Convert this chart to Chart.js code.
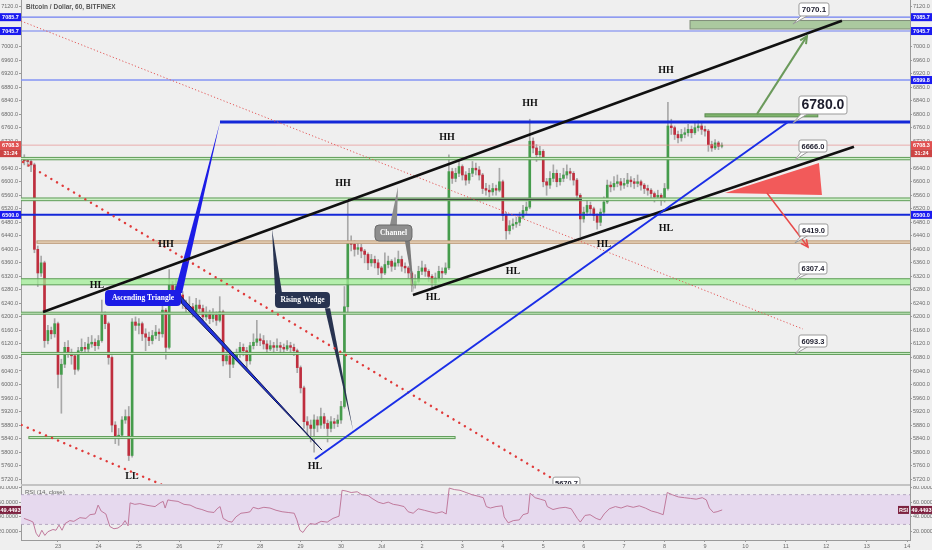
<!DOCTYPE html>
<html>
<head>
<meta charset="utf-8">
<script src="https://cdn.jsdelivr.net/npm/chart.js@4.4.0/dist/chart.umd.min.js"></script>
<style>
html, body { margin: 0; padding: 0; background: #efefef; }
#wrap { position: relative; width: 932px; height: 550px; overflow: hidden; background: #efefef; }
canvas { position: absolute; left: 0; }
#main { top: 0; }
#rsi { top: 486px; }
</style>
</head>
<body>
<div id="wrap">
  <canvas id="main" width="932" height="486"></canvas>
  <canvas id="rsi" width="932" height="64"></canvas>
</div>
<script>
// BTCUSD 2h candles, starting Jun 22 ~02:00
var startDay = 22.0833;
var barsPerDay = 12;
var firstOpen = 6670;

var closes = [
  6668, 6662, 6660, 6650, 6400, 6330, 6360, 6130, 6160, 6150,
  6180, 6030, 6060, 6110, 6095, 6085, 6045, 6100, 6110, 6105,
  6120, 6125, 6115, 6130, 6205, 6180, 6080, 5880, 5845, 5850,
  5895, 5905, 5790, 6185, 6175, 6180, 6150, 6140, 6130, 6145,
  6155, 6150, 6220, 6110, 6295, 6280, 6290, 6265, 6240, 6225,
  6230, 6215, 6235, 6225, 6200, 6210, 6195, 6205, 6190, 6215,
  6070, 6085, 6060, 6080, 6090, 6110, 6100, 6070, 6115, 6125,
  6135, 6130, 6120, 6105, 6115, 6110, 6115, 6110, 6105, 6115,
  6110, 6100, 6050, 5990, 5890, 5880, 5870, 5895, 5880, 5905,
  5885, 5870, 5890, 5885, 5895, 5935, 6230, 6420, 6415, 6400,
  6405, 6395, 6385, 6360, 6370, 6360, 6345, 6330, 6355, 6365,
  6350, 6360, 6370, 6350, 6345, 6330, 6295, 6305, 6335, 6345,
  6335, 6320, 6300, 6315, 6335, 6330, 6345, 6630, 6610, 6625,
  6645, 6620, 6605, 6625, 6640, 6635, 6620, 6580, 6575, 6570,
  6580, 6575, 6600, 6500, 6455, 6470, 6475, 6480, 6495, 6515,
  6525, 6720, 6700, 6680, 6690, 6600, 6590, 6610, 6625, 6600,
  6610, 6620, 6630, 6625, 6605, 6560, 6490, 6510, 6530, 6520,
  6500, 6480, 6510, 6540, 6590, 6585, 6595, 6600, 6590, 6595,
  6605, 6600, 6595, 6600, 6590, 6580, 6575, 6565, 6555, 6560,
  6545, 6580, 6765, 6760, 6740, 6730, 6740, 6745, 6755, 6745,
  6760, 6765, 6755, 6750, 6710, 6700, 6715, 6705, 6708.3
];

var highs = [
  6685, 6680, 6672, 6665, 6655, 6410, 6380, 6365, 6175, 6170,
  6195, 6185, 6075, 6125, 6130, 6105, 6095, 6110, 6135, 6125,
  6140, 6145, 6135, 6145, 6250, 6215, 6185, 6085, 5890, 5870,
  5905, 5925, 5935, 6195, 6200, 6195, 6185, 6165, 6155, 6160,
  6175, 6165, 6240, 6225, 6340, 6305, 6310, 6300, 6275, 6250,
  6260, 6240, 6255, 6250, 6235, 6230, 6220, 6225, 6215, 6260,
  6220, 6100, 6095, 6095, 6105, 6125, 6120, 6110, 6125, 6150,
  6190, 6150, 6145, 6130, 6130, 6125, 6135, 6125, 6120, 6130,
  6125, 6120, 6105, 6055, 5995, 5905, 5895, 5910, 5905, 5930,
  5915, 5895, 5905, 5900, 5910, 5950, 6290, 6540, 6440, 6425,
  6420, 6415, 6400, 6390, 6385, 6380, 6370, 6350, 6390, 6380,
  6370, 6375, 6395, 6380, 6360, 6350, 6335, 6325, 6350, 6365,
  6355, 6340, 6325, 6330, 6350, 6345, 6360, 6680, 6640, 6640,
  6665, 6650, 6630, 6640, 6660, 6655, 6645, 6625, 6595, 6590,
  6595, 6590, 6640, 6605, 6510, 6485, 6490, 6495, 6510, 6530,
  6540, 6785, 6730, 6710, 6705, 6695, 6610, 6630, 6650, 6635,
  6625, 6640, 6650, 6640, 6630, 6610, 6565, 6525, 6550, 6540,
  6525, 6505, 6520, 6555, 6605, 6600, 6615, 6620, 6610, 6610,
  6625, 6615, 6610, 6620, 6605, 6595, 6590, 6580, 6570, 6575,
  6565, 6595, 6835, 6785, 6765, 6750, 6755, 6760, 6770, 6765,
  6775, 6780, 6775, 6765, 6755, 6720, 6725, 6720, 6715
];

var lows = [
  6655, 6650, 6645, 6630, 6390, 6290, 6320, 6110, 6120, 6135,
  6140, 5990, 5915, 6050, 6080, 6060, 6030, 6040, 6090, 6090,
  6095, 6110, 6100, 6105, 6125, 6165, 6060, 5860, 5825, 5820,
  5840, 5885, 5775, 5785, 6160, 6150, 6130, 6100, 6115, 6120,
  6135, 6130, 6140, 6075, 6105, 6260, 6265, 6240, 6225, 6210,
  6215, 6200, 6205, 6210, 6185, 6190, 6180, 6185, 6175, 6185,
  6055, 6060, 6020, 6050, 6070, 6080, 6085, 6040, 6060, 6105,
  6115, 6115, 6105, 6095, 6100, 6095, 6100, 6095, 6090, 6100,
  6095, 6085, 6035, 5975, 5870, 5850, 5830, 5800, 5860, 5870,
  5870, 5830, 5860, 5870, 5875, 5885, 5930, 6210, 6395, 6380,
  6385, 6375, 6360, 6340, 6350, 6345, 6325, 6310, 6325, 6345,
  6335, 6340, 6350, 6335, 6330, 6315, 6275, 6285, 6300, 6325,
  6320, 6305, 6285, 6290, 6305, 6315, 6325, 6340, 6595, 6600,
  6615, 6605, 6590, 6595, 6615, 6620, 6605, 6565, 6560, 6555,
  6560, 6560, 6570, 6485, 6430, 6445, 6460, 6465, 6470, 6490,
  6505, 6520, 6685, 6660, 6670, 6585, 6560, 6580, 6600, 6585,
  6590, 6600, 6610, 6605, 6590, 6545, 6437, 6480, 6500, 6505,
  6485, 6460, 6470, 6500, 6535, 6570, 6575, 6585, 6575, 6580,
  6585, 6585, 6580, 6585, 6575, 6565, 6560, 6550, 6540, 6545,
  6530, 6540, 6575, 6740, 6725, 6715, 6720, 6730, 6735, 6730,
  6740, 6750, 6740, 6735, 6690, 6690, 6695, 6695, 6700
];

var rsiPos = [
  0.9, 2.7, 3.6, 4.5, 5.3, 6.2, 7.1, 8, 9.5, 10.4,
  11.3, 12.2, 13.1, 14.5, 15.7, 17.5, 19.3, 20.5, 22, 22.9,
  23.8, 25.2, 26.4, 27.6, 28.8, 30, 30.9, 31.8, 32.4, 33.8,
  35.3, 37.1, 38.3, 39.8, 41.3, 42.2, 42.8, 43.6, 44.8, 46.6,
  48.4, 50.2, 52, 53.7, 55.5, 57.3, 58.2, 59.1, 60, 61.5,
  62.6, 63.8, 65.3, 67.1, 68, 68.9, 70.4, 72.1, 73.9, 75.7,
  77.5, 79.3, 81.1, 81.9, 82.8, 83.7, 84.6, 85.8, 87.3, 89.1,
  90.9, 92.6, 94.4, 95.3, 96.5, 98, 99.8, 101.2, 103, 104.2,
  106, 107.5, 109, 110.5, 111.9, 113.7, 114.9, 116.4, 117.9, 119.7,
  121.4, 123.2, 125, 126.2, 127.1, 128.6, 130.3, 132.1, 133.9, 135.7,
  137.2, 138.1, 139.3, 141, 142.8, 143.4, 144.6, 146.1, 147.9, 149,
  150.5, 151.1, 152.6, 154.1, 155.6, 156.2, 157.9, 159.7, 161.5, 163.3,
  165.1, 166, 167.4, 168.9, 170.7, 171.9, 173.1, 174.6, 176.4, 178.1,
  179.9, 181.7, 183.5, 185.3, 187.1, 188.8, 190.6, 191.8, 193.3, 195.1,
  196.9, 198.7, 200.4, 202.2, 203.4, 204.3, 205.5, 206.6, 208.1
];
var rsiVal = [
  38, 35, 33, 18, 13, 22, 15, 20, 23, 22,
  29, 22, 31, 35, 34, 39, 38, 43, 44, 56,
  48, 44, 27, 24, 25, 29, 35, 28, 59, 57,
  58, 56, 55, 54, 59, 61, 52, 63, 62, 61,
  57, 56, 52, 50, 47, 46, 51, 54, 38, 34,
  33, 40, 45, 46, 47, 53, 51, 53, 52, 49,
  47, 46, 45, 36, 22, 19, 25, 31, 30, 34,
  33, 38, 41, 76, 75, 73, 74, 70, 69, 65,
  60, 58, 60, 57, 56, 54, 47, 45, 51, 49,
  47, 45, 47, 44, 79, 77, 76, 73, 70, 68,
  66, 54, 52, 54, 55, 40, 32, 35, 36, 43,
  45, 72, 66, 64, 62, 54, 50, 52, 53, 51,
  38, 33, 42, 43, 38, 36, 44, 51, 54, 52,
  55, 53, 55, 52, 48, 46, 43, 73, 70, 67,
  66, 65, 64, 66, 63, 52, 46, 47, 49.4493
];

var priceTicks = [5720, 5760, 5800, 5840, 5880, 5920, 5960, 6000, 6040, 6080, 6120, 6160,
  6200, 6240, 6280, 6320, 6360, 6400, 6440, 6480, 6520, 6560, 6600, 6640, 6680, 6720,
  6760, 6800, 6840, 6880, 6920, 6960, 7000, 7040, 7080, 7120];
var rsiTicks = [20, 40, 60, 80];
var dayTicks = [23, 24, 25, 26, 27, 28, 29, 30, 31, 32, 33, 34, 35, 36, 37, 38, 39, 40, 41, 42, 43, 44];
var dayLabels = ['23', '24', '25', '26', '27', '28', '29', '30', 'Jul', '2', '3', '4', '5', '6', '7', '8', '9', '10', '11', '12', '13', '14'];

// view window
var xMin = 22.085, xMax = 44.07;
var yMin = 5699.7, yMax = 7137.8;
var rsiMin = 8.8, rsiMax = 81.8;

var upColor = '#459c4c', downColor = '#bf2e3e', wickColor = '#a8a8a8';
var serif = '"Liberation Serif", "DejaVu Serif", serif';
var sans = '"Liberation Sans", Arial, sans-serif';

// candles -> floating bars
var wickData = [], bodyData = [], bodyColors = [];
for (var i = 0; i < closes.length; i++) {
  var o = i === 0 ? firstOpen : closes[i - 1];
  var c = closes[i];
  var x = startDay + i / barsPerDay;
  wickData.push({ x: x, y: [Math.min(lows[i], o, c), Math.max(highs[i], o, c)] });
  bodyData.push({ x: x, y: [Math.min(o, c), Math.max(o, c)] });
  bodyColors.push(c >= o ? upColor : downColor);
}
var rsiPoints = rsiPos.map(function (p, k) { return { x: startDay + p / barsPerDay, y: rsiVal[k] }; });

// ---- drawings (day, price) ----
var L = 21.9, R = 44.3;
var zones = [
  { top: 7077, bottom: 7052, from: 38.63, to: R, fill: 'rgba(125,175,105,0.6)', stroke: '#7f8c78' },
  { top: 6672, bottom: 6665, from: L, to: R, fill: '#cdeec6', stroke: '#5e9c58' },
  { top: 6552, bottom: 6544, from: L, to: R, fill: '#cdeec6', stroke: '#5e9c58' },
  { top: 6425, bottom: 6418, from: 22.48, to: R, fill: '#ecd9c2', stroke: '#b8936e' },
  { top: 6313, bottom: 6295, from: L, to: R, fill: 'rgba(160,238,150,0.75)', stroke: '#5e9c58' },
  { top: 6214, bottom: 6208, from: L, to: R, fill: '#cdeec6', stroke: '#5e9c58' },
  { top: 6095, bottom: 6089, from: L, to: R, fill: '#cdeec6', stroke: '#5e9c58' },
  { top: 5846, bottom: 5840, from: 22.28, to: 32.82, fill: '#cdeec6', stroke: '#5e9c58' },
  { top: 6801, bottom: 6792, from: 39.0, to: 41.79, fill: '#7fb46c', stroke: '#5c8c50' }
];
var hLines = [
  { p: 7087, from: L, to: R, color: '#6f7ff2', w: 1.2 },
  { p: 7046, from: L, to: R, color: '#6f7ff2', w: 1.2 },
  { p: 6901, from: L, to: R, color: '#8494f4', w: 1.5 },
  { p: 6777, from: 27.006, to: R, color: '#1428d8', w: 3 },
  { p: 6708.3, from: L, to: R, color: 'rgba(230,130,130,0.6)', w: 1 },
  { p: 6548, from: 30.171, to: 35.957, color: '#222', w: 1 },
  { p: 6502, from: L, to: R, color: '#1428d8', w: 2 }
];
var segments = [
  { d1: 22.085, p1: 7075.6, d2: 41.422, p2: 6164.2, color: '#e25858', w: 1, dash: [1.2, 2.2] },
  { d1: 22.134, p1: 6658.4, d2: 35.29, p2: 5717.4, color: '#e03a3a', w: 2.4, dash: [0.1, 6.5], cap: 'round' },
  { d1: 22.1, p1: 5880, d2: 25.6, p2: 5702, color: '#e03a3a', w: 2.4, dash: [0.1, 6.5], cap: 'round' },
  { d1: 22.629, p1: 6214.5, d2: 42.387, p2: 7076.5, color: '#111', w: 2.5 },
  { d1: 31.778, p1: 6264.9, d2: 42.684, p2: 6703.7, color: '#111', w: 2.5 },
  { d1: 29.355, p1: 5779.6, d2: 41.052, p2: 6776.8, color: '#1a2ee6', w: 2 },
  { d1: 40.285, p1: 6800, d2: 41.522, p2: 7031, color: '#6b9a5b', w: 2, arrow: true },
  { d1: 40.532, p1: 6566.7, d2: 41.547, p2: 6406.9, color: '#e84848', w: 1.5, arrow: true }
];
var polygons = [
  { pts: [[39.494, 6566.7], [41.819, 6655.4], [41.893, 6560.7]], fill: '#f25a5a' },
  // callout tails
  { pts: [[25.88, 6271], [26.07, 6271], [27.006, 6776.8]], fill: '#1c1ce6' },
  { pts: [[26.02, 6264], [26.06, 6240], [29.528, 5806]], fill: '#2233dd', stroke: '#121a50' },
  { pts: [[28.37, 6271], [28.54, 6271], [28.292, 6460]], fill: '#283350' },
  { pts: [[29.6, 6226], [29.73, 6226], [30.295, 5865.4]], fill: '#283350' },
  { pts: [[31.21, 6472], [31.38, 6472], [31.407, 6584.4]], fill: '#8c8c8c' },
  { pts: [[31.58, 6424.6], [31.70, 6424.6], [31.803, 6270.8]], fill: '#7a7a7a' }
];
var boxes = [
  { d: 24.162, p: 6279.7, w: 76, h: 16, text: 'Ascending Triangle', fill: '#1c1ce6' },
  { d: 28.366, p: 6273.7, w: 55, h: 16, text: 'Rising Wedge', fill: '#283350' },
  { d: 30.839, p: 6472, w: 37, h: 16, text: 'Channel', fill: '#8e8e8e', stroke: '#6a6a6a' }
];
var callouts = [
  { d: 41.324, p: 7129, w: 30, h: 13, text: '7070.1', size: 8, td: 41.175, tp: 7066.7 },
  { d: 41.324, p: 6853.7, w: 48, h: 18, text: '6780.0', size: 14, td: 41.175, tp: 6773.8 },
  { d: 41.324, p: 6723.5, w: 28, h: 12, text: '6666.0', size: 7.5, td: 41.224, tp: 6664.3 },
  { d: 41.324, p: 6475, w: 29, h: 12, text: '6419.0', size: 7.5, td: 41.224, tp: 6418.7 },
  { d: 41.324, p: 6362.5, w: 28, h: 12, text: '6307.4', size: 7.5, td: 41.224, tp: 6309.3 },
  { d: 41.324, p: 6146.5, w: 28, h: 12, text: '6093.3', size: 7.5, td: 41.224, tp: 6090 },
  { d: 35.24, p: 5726, w: 27, h: 12, text: '5670.7', size: 7.5 }
];
var swingLabels = [
  { d: 38.034, p: 6930.6, t: 'HH' }, { d: 34.672, p: 6833, t: 'HH' },
  { d: 32.619, p: 6732.4, t: 'HH' }, { d: 30.047, p: 6596.3, t: 'HH' },
  { d: 25.671, p: 6415.8, t: 'HH' }, { d: 23.964, p: 6294.5, t: 'HL' },
  { d: 32.273, p: 6259, t: 'HL' }, { d: 34.251, p: 6335.9, t: 'HL' },
  { d: 36.501, p: 6415.8, t: 'HL' }, { d: 38.034, p: 6463, t: 'HL' },
  { d: 29.355, p: 5758.9, t: 'HL' }, { d: 24.83, p: 5729.3, t: 'LL' }
];
var axisTags = [
  { p: 7087, text: '7085.7', fill: '#1b1bf0', left: true, right: true },
  { p: 7046, text: '7045.7', fill: '#1b1bf0', left: true, right: true },
  { p: 6901, text: '6899.8', fill: '#1b1bf0', right: true },
  { p: 6708.3, text: '6708.3', fill: '#e05050', left: true, right: true },
  { p: 6708.3, off: 8, text: '31:24', fill: '#cc4444', left: true, right: true },
  { p: 6502, text: '6500.0', fill: '#1b1bf0', left: true, right: true }
];

function X(ch, d) { return ch.scales.x.getPixelForValue(d); }
function Y(ch, p) { return ch.scales.y.getPixelForValue(p); }

function arrowHead(ctx, x1, y1, x2, y2) {
  var a = Math.atan2(y2 - y1, x2 - x1), len = 8;
  ctx.beginPath();
  ctx.moveTo(x2 - len * Math.cos(a - 0.45), y2 - len * Math.sin(a - 0.45));
  ctx.lineTo(x2, y2);
  ctx.lineTo(x2 - len * Math.cos(a + 0.45), y2 - len * Math.sin(a + 0.45));
  ctx.stroke();
}

var drawings = {
  id: 'drawings',
  afterDatasetsDraw: function (ch) {
    var ctx = ch.ctx, a = ch.chartArea;
    ctx.save();
    ctx.beginPath();
    ctx.rect(a.left, a.top, a.right - a.left, a.bottom - a.top);
    ctx.clip();

    zones.forEach(function (z) {
      var x1 = X(ch, z.from), x2 = X(ch, z.to), y1 = Y(ch, z.top), y2 = Y(ch, z.bottom);
      ctx.fillStyle = z.fill;
      ctx.fillRect(x1, y1, x2 - x1, y2 - y1);
      ctx.strokeStyle = z.stroke;
      ctx.lineWidth = 1;
      ctx.strokeRect(x1, y1, x2 - x1, y2 - y1);
    });
    hLines.forEach(function (l) {
      var y = Y(ch, l.p);
      ctx.strokeStyle = l.color;
      ctx.lineWidth = l.w;
      ctx.beginPath();
      ctx.moveTo(X(ch, l.from), y);
      ctx.lineTo(X(ch, l.to), y);
      ctx.stroke();
    });
    polygons.forEach(function (g) {
      ctx.beginPath();
      g.pts.forEach(function (pt, k) {
        var px = X(ch, pt[0]), py = Y(ch, pt[1]);
        if (k === 0) ctx.moveTo(px, py); else ctx.lineTo(px, py);
      });
      ctx.closePath();
      ctx.fillStyle = g.fill;
      ctx.fill();
      if (g.stroke) { ctx.strokeStyle = g.stroke; ctx.lineWidth = 1; ctx.stroke(); }
    });
    segments.forEach(function (s) {
      var x1 = X(ch, s.d1), y1 = Y(ch, s.p1), x2 = X(ch, s.d2), y2 = Y(ch, s.p2);
      ctx.strokeStyle = s.color;
      ctx.lineWidth = s.w;
      ctx.lineCap = s.cap || 'butt';
      ctx.setLineDash(s.dash || []);
      ctx.beginPath();
      ctx.moveTo(x1, y1);
      ctx.lineTo(x2, y2);
      ctx.stroke();
      ctx.setLineDash([]);
      ctx.lineCap = 'butt';
      if (s.arrow) arrowHead(ctx, x1, y1, x2, y2);
    });
    boxes.forEach(function (b) {
      var x = X(ch, b.d), y = Y(ch, b.p);
      ctx.fillStyle = b.fill;
      ctx.beginPath();
      ctx.roundRect(x, y, b.w, b.h, 4);
      ctx.fill();
      if (b.stroke) { ctx.strokeStyle = b.stroke; ctx.lineWidth = 1; ctx.stroke(); }
      ctx.fillStyle = '#fff';
      ctx.font = 'bold 7.5px ' + serif;
      ctx.textAlign = 'center';
      ctx.textBaseline = 'middle';
      ctx.fillText(b.text, x + b.w / 2, y + b.h / 2 + 0.5);
    });
    callouts.forEach(function (c) {
      var x = X(ch, c.d), y = Y(ch, c.p);
      ctx.fillStyle = '#fff';
      ctx.strokeStyle = '#9a9a9a';
      ctx.lineWidth = 1;
      if (c.td !== undefined) {
        ctx.beginPath();
        ctx.moveTo(x + 3, y + c.h - 1);
        ctx.lineTo(X(ch, c.td), Y(ch, c.tp));
        ctx.lineTo(x + 10, y + c.h - 1);
        ctx.closePath();
        ctx.fill();
        ctx.stroke();
      }
      ctx.beginPath();
      ctx.roundRect(x, y, c.w, c.h, 2);
      ctx.fill();
      ctx.stroke();
      ctx.fillStyle = '#1e1e2e';
      ctx.font = 'bold ' + c.size + 'px ' + sans;
      ctx.textAlign = 'center';
      ctx.textBaseline = 'middle';
      ctx.fillText(c.text, x + c.w / 2, y + c.h / 2 + 0.5);
    });
    ctx.fillStyle = '#111';
    ctx.font = 'bold 10px ' + serif;
    ctx.textAlign = 'center';
    ctx.textBaseline = 'middle';
    swingLabels.forEach(function (s) {
      ctx.fillText(s.t, X(ch, s.d), Y(ch, s.p));
    });
    ctx.restore();
  },
  afterDraw: function (ch) {
    var ctx = ch.ctx, a = ch.chartArea;
    ctx.save();
    ctx.font = 'bold 5.5px ' + sans;
    ctx.textAlign = 'center';
    ctx.textBaseline = 'middle';
    axisTags.forEach(function (t) {
      var y = Y(ch, t.p) + (t.off || 0);
      if (t.left) {
        ctx.fillStyle = t.fill;
        ctx.fillRect(0, y - 4, a.left, 8);
        ctx.fillStyle = '#fff';
        ctx.fillText(t.text, a.left / 2, y + 0.5);
      }
      if (t.right) {
        ctx.fillStyle = t.fill;
        ctx.fillRect(a.right + 1, y - 4, ch.width - a.right - 1, 8);
        ctx.fillStyle = '#fff';
        ctx.fillText(t.text, (a.right + ch.width) / 2 + 0.5, y + 0.5);
      }
    });
    // pane separator
    ctx.fillStyle = '#c3c3c3';
    ctx.fillRect(a.left, ch.height - 2, a.right - a.left, 2);
    // title
    ctx.fillStyle = '#555';
    ctx.font = 'bold 6.5px ' + sans;
    ctx.textAlign = 'left';
    ctx.fillText('Bitcoin / Dollar, 60, BITFINEX', 26, 7.5);
    ctx.restore();
  }
};

function priceAxis(pos) {
  return {
    position: pos,
    min: yMin,
    max: yMax,
    afterBuildTicks: function (s) { s.ticks = priceTicks.map(function (v) { return { value: v }; }); },
    afterFit: function (s) { s.width = pos === 'left' ? 21 : 22; s.paddingTop = 0; s.paddingBottom = 0; },
    ticks: { font: { size: 5.5, family: sans }, color: '#6a6a6a', padding: 1, callback: function (v) { return v.toFixed(1); } },
    grid: { drawOnChartArea: false, tickLength: 2, color: '#9a9a9a' },
    border: { color: '#9a9a9a' }
  };
}

var mainChart = new Chart(document.getElementById('main'), {
  type: 'bar',
  data: {
    datasets: [
      { data: wickData, backgroundColor: wickColor, barThickness: 1, grouped: false, order: 2 },
      { data: bodyData, backgroundColor: bodyColors, barThickness: 2, grouped: false, minBarLength: 1, order: 1 }
    ]
  },
  options: {
    responsive: false,
    animation: false,
    layout: { padding: 0 },
    plugins: { legend: { display: false }, tooltip: { enabled: false } },
    scales: {
      x: { type: 'linear', min: xMin, max: xMax, offset: false, display: false },
      y: priceAxis('left'),
      y2: priceAxis('right')
    }
  },
  plugins: [drawings]
});

// RSI pane
var rsiBand = {
  id: 'rsiBand',
  beforeDatasetsDraw: function (ch) {
    var ctx = ch.ctx, a = ch.chartArea, y = ch.scales.y;
    var y70 = y.getPixelForValue(70), y30 = y.getPixelForValue(30);
    ctx.save();
    ctx.fillStyle = '#e6d9ee';
    ctx.fillRect(a.left, y70, a.right - a.left, y30 - y70);
    ctx.strokeStyle = '#a897b5';
    ctx.lineWidth = 0.8;
    ctx.setLineDash([3, 3]);
    [y70, y30].forEach(function (yy) {
      ctx.beginPath();
      ctx.moveTo(a.left, yy);
      ctx.lineTo(a.right, yy);
      ctx.stroke();
    });
    ctx.restore();
  },
  afterDraw: function (ch) {
    var ctx = ch.ctx, a = ch.chartArea;
    var yy = ch.scales.y.getPixelForValue(rsiVal[rsiVal.length - 1]);
    ctx.save();
    ctx.font = '6px ' + sans;
    ctx.fillStyle = '#666';
    ctx.textAlign = 'left';
    ctx.textBaseline = 'middle';
    ctx.fillText('RSI (14, close)', 25, 6.5);
    ctx.font = 'bold 5.5px ' + sans;
    ctx.textAlign = 'center';
    ctx.fillStyle = '#7d2240';
    ctx.fillRect(0, yy - 4, a.left, 8);
    ctx.fillRect(a.right - 12, yy - 4, 11, 8);
    ctx.fillRect(a.right + 1, yy - 4, ch.width - a.right - 1, 8);
    ctx.fillStyle = '#fff';
    ctx.fillText('49.4493', a.left / 2, yy + 0.5);
    ctx.fillText('RSI', a.right - 6.5, yy + 0.5);
    ctx.fillText('49.4493', (a.right + ch.width) / 2 + 0.5, yy + 0.5);
    ctx.restore();
  }
};

function rsiAxis(pos) {
  return {
    position: pos,
    min: rsiMin,
    max: rsiMax,
    afterBuildTicks: function (s) { s.ticks = rsiTicks.map(function (v) { return { value: v }; }); },
    afterFit: function (s) { s.width = pos === 'left' ? 21 : 22; s.paddingTop = 0; s.paddingBottom = 0; },
    ticks: { font: { size: 5.5, family: sans }, color: '#6a6a6a', padding: 1, callback: function (v) { return v.toFixed(4); } },
    grid: { drawOnChartArea: false, tickLength: 2, color: '#9a9a9a' },
    border: { color: '#9a9a9a' }
  };
}

var rsiChart = new Chart(document.getElementById('rsi'), {
  type: 'line',
  data: {
    datasets: [{ data: rsiPoints, borderColor: '#c07a9c', borderWidth: 1, pointRadius: 0, tension: 0 }]
  },
  options: {
    responsive: false,
    animation: false,
    layout: { padding: 0 },
    plugins: { legend: { display: false }, tooltip: { enabled: false } },
    scales: {
      x: {
        type: 'linear', min: xMin, max: xMax,
        afterBuildTicks: function (s) { s.ticks = dayTicks.map(function (v) { return { value: v }; }); },
        afterFit: function (s) { s.height = 10; s.paddingLeft = 0; s.paddingRight = 0; },
        ticks: {
          font: { size: 5.5, family: sans }, color: '#6a6a6a', padding: 1, maxRotation: 0, autoSkip: false,
          callback: function (v) { return dayLabels[dayTicks.indexOf(v)]; }
        },
        grid: { drawOnChartArea: false, tickLength: 2, color: '#9a9a9a' },
        border: { color: '#9a9a9a' }
      },
      y: rsiAxis('left'),
      y2: rsiAxis('right')
    }
  },
  plugins: [rsiBand]
});
</script>
</body>
</html>
